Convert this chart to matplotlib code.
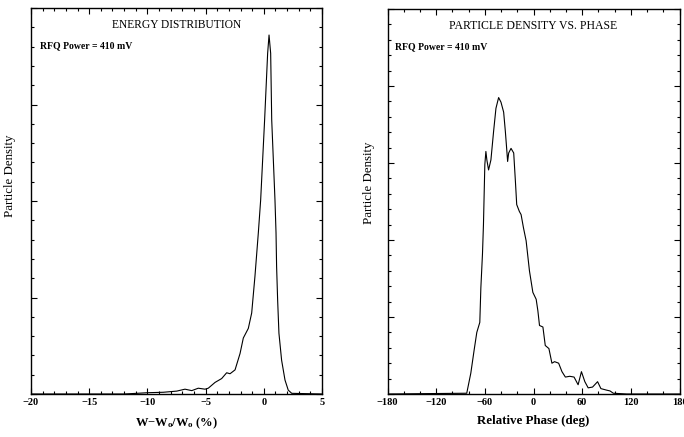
import matplotlib
matplotlib.use("Agg")
import matplotlib.pyplot as plt
from matplotlib.ticker import MultipleLocator

plt.rcParams['font.family'] = ['Liberation Serif', 'DejaVu Serif']
plt.rcParams['mathtext.fontset'] = 'custom'
plt.rcParams['mathtext.rm'] = 'Liberation Serif'
plt.rcParams['mathtext.bf'] = 'Liberation Serif:bold'
plt.rcParams['mathtext.it'] = 'Liberation Serif:italic'

# Energy distribution
energy_x = [-20, -12, -10.9, -10.06, -8.63, -7.48, -6.77, -6.19, -5.63, -5.05, -4.77,
            -4.19, -3.62, -3.19, -2.9, -2.47, -2.04, -1.76, -1.33, -1.04, -0.76, -0.47,
            -0.27, 0.07, 0.33, 0.45, 0.59, 0.68, 0.96, 1.05, 1.1, 1.19, 1.3, 1.53, 1.82,
            2.1, 2.4, 5]
energy_y = [0, 0, 0.007, 0.013, 0.018, 0.03, 0.05, 0.035, 0.06, 0.05, 0.06,
            0.12, 0.16, 0.22, 0.21, 0.25, 0.42, 0.58, 0.68, 0.84, 1.22, 1.67,
            2.01, 2.84, 3.53, 3.72, 3.53, 2.84, 2.01, 1.67, 1.32, 0.97, 0.63, 0.35, 0.145,
            0.04, 0.007, 0]

# Particle density vs phase
phase_x = [-180, -82.3, -77.3, -73.2, -69.9, -66.2, -64.9, -62.9, -61.7, -60, -58.7,
           -57.5, -55.4, -52.5, -49.2, -46.3, -43, -40.1, -36.8, -34.7, -33.1, -31.9,
           -30.6, -27.7, -24.4, -22.3, -20.7, -17.4, -15.3, -12.4, -9.1, -5, -0.8, 3.3,
           5.4, 7.4, 11.6, 14.5, 19, 22.7, 26, 31, 35.1, 39.3, 44.7, 50, 55, 59.1, 63.3,
           67.4, 72.8, 79, 83.1, 90.2, 94.3, 98.4, 115, 180]
phase_y = [0, 0.01, 0.27, 0.57, 0.80, 0.93, 1.38, 1.82, 2.2, 2.98, 3.15,
           3.04, 2.91, 3.04, 3.41, 3.71, 3.85, 3.79, 3.66, 3.41, 3.19, 3.02,
           3.13, 3.19, 3.13, 2.76, 2.46, 2.37, 2.33, 2.16, 1.99, 1.6, 1.32, 1.23,
           1.08, 0.89, 0.87, 0.63, 0.59, 0.40, 0.42, 0.40, 0.29, 0.22, 0.23, 0.22, 0.12, 0.29, 0.16,
           0.08, 0.09, 0.16, 0.07, 0.05, 0.04, 0.01, 0.0, 0]

energy_ticks = [-20, -15, -10, -5, 0, 5]
phase_ticks = [-180, -120, -60, 0, 60, 120, 180]

fig = plt.figure(figsize=(6.84, 4.37), dpi=100)
W, H = 684, 437

def axes_px(x0, x1, ytop, ybot):
    return fig.add_axes([x0 / W, 1 - ybot / H, (x1 - x0) / W, (ybot - ytop) / H])

ax1 = axes_px(31, 322, 8, 394)
ax2 = axes_px(387.5, 679.5, 9, 394)

def style(ax):
    ax.tick_params(which='both', direction='in', top=True, right=True,
                   labelleft=False, width=0.8)
    ax.tick_params(which='major', length=4.5, labelsize=7.5, pad=3)
    ax.tick_params(which='minor', length=2.5)
    for s in ax.spines.values():
        s.set_linewidth(1.0)
    for lab in ax.get_xticklabels():
        lab.set_fontweight('bold')

ax1.plot(energy_x, energy_y, color='black', lw=0.8)
ax1.set_xlim(-20, 5)
ax1.set_ylim(0, 4)
ax1.set_xticks(energy_ticks)
ax1.xaxis.set_minor_locator(MultipleLocator(1))
ax1.yaxis.set_major_locator(MultipleLocator(1))
ax1.yaxis.set_minor_locator(MultipleLocator(0.2))
style(ax1)
ax1.text(0.5, 0.955, 'ENERGY DISTRIBUTION', transform=ax1.transAxes,
         ha='center', va='center', fontsize=8.3)
ax1.text(0.03, 0.903, 'RFQ Power = 410 mV', transform=ax1.transAxes,
         ha='left', va='center', fontsize=7, fontweight='bold')
ax1.set_xlabel(r'W$-$W$_\mathbf{o}$/W$_\mathbf{o}$ (%)', fontsize=9,
               fontweight='bold')
ax1.xaxis.set_label_coords(0.5, -0.055)
ax1.set_ylabel('Particle Density', fontsize=9.3)
ax1.yaxis.set_label_coords(-0.05, 0.566)

ax2.plot(phase_x, phase_y, color='black', lw=0.8)
ax2.set_xlim(-180, 180)
ax2.set_ylim(0, 5)
ax2.set_xticks(phase_ticks)
ax2.xaxis.set_minor_locator(MultipleLocator(20))
ax2.yaxis.set_major_locator(MultipleLocator(1))
ax2.yaxis.set_minor_locator(MultipleLocator(0.2))
style(ax2)
ax2.text(0.5, 0.955, 'PARTICLE DENSITY VS. PHASE', transform=ax2.transAxes,
         ha='center', va='center', fontsize=8.5)
ax2.text(0.025, 0.903, 'RFQ Power = 410 mV', transform=ax2.transAxes,
         ha='left', va='center', fontsize=7, fontweight='bold')
ax2.set_xlabel('Relative Phase (deg)', fontsize=9.3, fontweight='bold')
ax2.xaxis.set_label_coords(0.5, -0.055)
ax2.set_ylabel('Particle Density', fontsize=9.3)
ax2.yaxis.set_label_coords(-0.043, 0.548)

fig.savefig('out.png', dpi=100)
